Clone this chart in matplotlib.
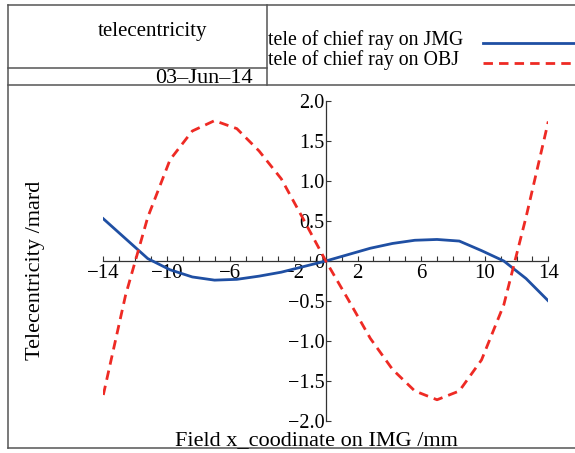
import matplotlib
matplotlib.use("Agg")
import matplotlib.pyplot as plt
from matplotlib.lines import Line2D
from matplotlib.ticker import MultipleLocator, FixedLocator, FuncFormatter

# ---- data ----
field_x = [-14, -12.6, -11.2, -9.8, -8.4, -7, -5.6, -4.2, -2.8, -1.4, 0,
           1.4, 2.8, 4.2, 5.6, 7, 8.4, 9.8, 11.2, 12.6, 14]
tele_img = [0.53, 0.28, 0.03, -0.11, -0.20, -0.24, -0.23, -0.19, -0.14, -0.07, 0.0,
            0.08, 0.16, 0.22, 0.26, 0.27, 0.25, 0.13, 0.0, -0.22, -0.50]
tele_obj = [-1.68, -0.43, 0.55, 1.27, 1.63, 1.76, 1.66, 1.38, 1.03, 0.52, 0.0,
            -0.48, -0.97, -1.36, -1.63, -1.74, -1.63, -1.24, -0.55, 0.55, 1.75]
x_tick_labels = [-14, -10, -6, -2, 2, 6, 10, 14]
y_ticks = [-2.0, -1.5, -1.0, -0.5, 0.0, 0.5, 1.0, 1.5, 2.0]

title = "telecentricity"
date_text = "03\u2013Jun\u201314"
legend_labels = ["tele of chief ray on JMG", "tele of chief ray on OBJ"]
xlabel = "Field x_coodinate on IMG /mm"
ylabel = "Telecentricity /mard"

W, H = 575, 453
FONT = "Liberation Serif"
plt.rcParams['font.family'] = [FONT, 'DejaVu Serif']

fig = plt.figure(figsize=(W / 100, H / 100), dpi=100)
fig.patch.set_facecolor("white")


def fx(x):
    return x / W


def fy(y):
    return 1 - y / H


BLUE = "#1f4fa3"
RED = "#ee2a24"
FRAME = "#555555"

# axes placement
x0, x1 = 103.3, 548.3
ytop, ybot = 101.5, 420.5
ax = fig.add_axes([fx(x0), fy(ybot), (x1 - x0) / W, (ybot - ytop) / H])
ax.set_facecolor("none")
ax.set_xlim(-14, 14)
ax.set_ylim(-2, 2)

ax.plot(field_x, tele_img, color=BLUE, lw=2.0, solid_joinstyle='round', zorder=3)
ax.plot(field_x, tele_obj, color=RED, lw=2.0, dashes=(3.4, 2.2), zorder=3)

for s in ["top", "right"]:
    ax.spines[s].set_visible(False)
ax.spines["left"].set_position(("data", 0))
ax.spines["bottom"].set_position(("data", 0))
for s in ["left", "bottom"]:
    ax.spines[s].set_color("#333333")
    ax.spines[s].set_linewidth(0.9)

ax.xaxis.set_major_locator(FixedLocator(x_tick_labels))
ax.xaxis.set_minor_locator(MultipleLocator(1))
ax.xaxis.set_major_formatter(FuncFormatter(lambda v, p: f"{int(v)}".replace("-", "\u2212")))
ax.yaxis.set_major_locator(FixedLocator(y_ticks))


def yfmt(v, p):
    if abs(v) < 1e-9:
        return "0"
    return f"{v:.1f}".replace("-", "\u2212")


ax.yaxis.set_major_formatter(FuncFormatter(yfmt))
ax.tick_params(axis="x", which="both", direction="in", length=3.5, width=0.8,
               color="#333333", labelsize=15, pad=2.5)
ax.tick_params(axis="y", which="both", direction="in", length=3.5, width=0.8,
               color="#333333", labelsize=14.5, pad=1)

# ---- frame / header ----
def hline(y, xa, xb):
    fig.add_artist(Line2D([fx(xa), fx(xb)], [fy(y), fy(y)], color=FRAME, lw=1.1,
                          transform=fig.transFigure))


def vline(x, ya, yb):
    fig.add_artist(Line2D([fx(x), fx(x)], [fy(ya), fy(yb)], color=FRAME, lw=1.1,
                          transform=fig.transFigure))


hline(5, 8, 575)
hline(85, 8, 575)
hline(68, 8, 267)
hline(448, 8, 575)
vline(8, 5, 448)
vline(267, 5, 85)

fig.text(fx(152), fy(36), title, ha="center", va="baseline", fontsize=15)
fig.text(fx(253), fy(83), date_text, ha="right", va="baseline", fontsize=16)
fig.text(fx(268), fy(45), legend_labels[0], ha="left", va="baseline", fontsize=14.3)
fig.text(fx(268), fy(65), legend_labels[1], ha="left", va="baseline", fontsize=14.3)
fig.add_artist(Line2D([fx(483), fx(580)], [fy(43), fy(43)], color=BLUE, lw=2.0,
                      transform=fig.transFigure))
fig.add_artist(Line2D([fx(483), fx(580)], [fy(63), fy(63)], color=RED, lw=2.0,
                      dashes=(3.4, 2.2), transform=fig.transFigure))

fig.text(fx(316), fy(445.5), xlabel, ha="center", va="baseline", fontsize=16)
fig.text(fx(36), fy(270), ylabel, ha="center", va="center", rotation=90, fontsize=16)

fig.savefig("out.png", dpi=100, facecolor="white")
